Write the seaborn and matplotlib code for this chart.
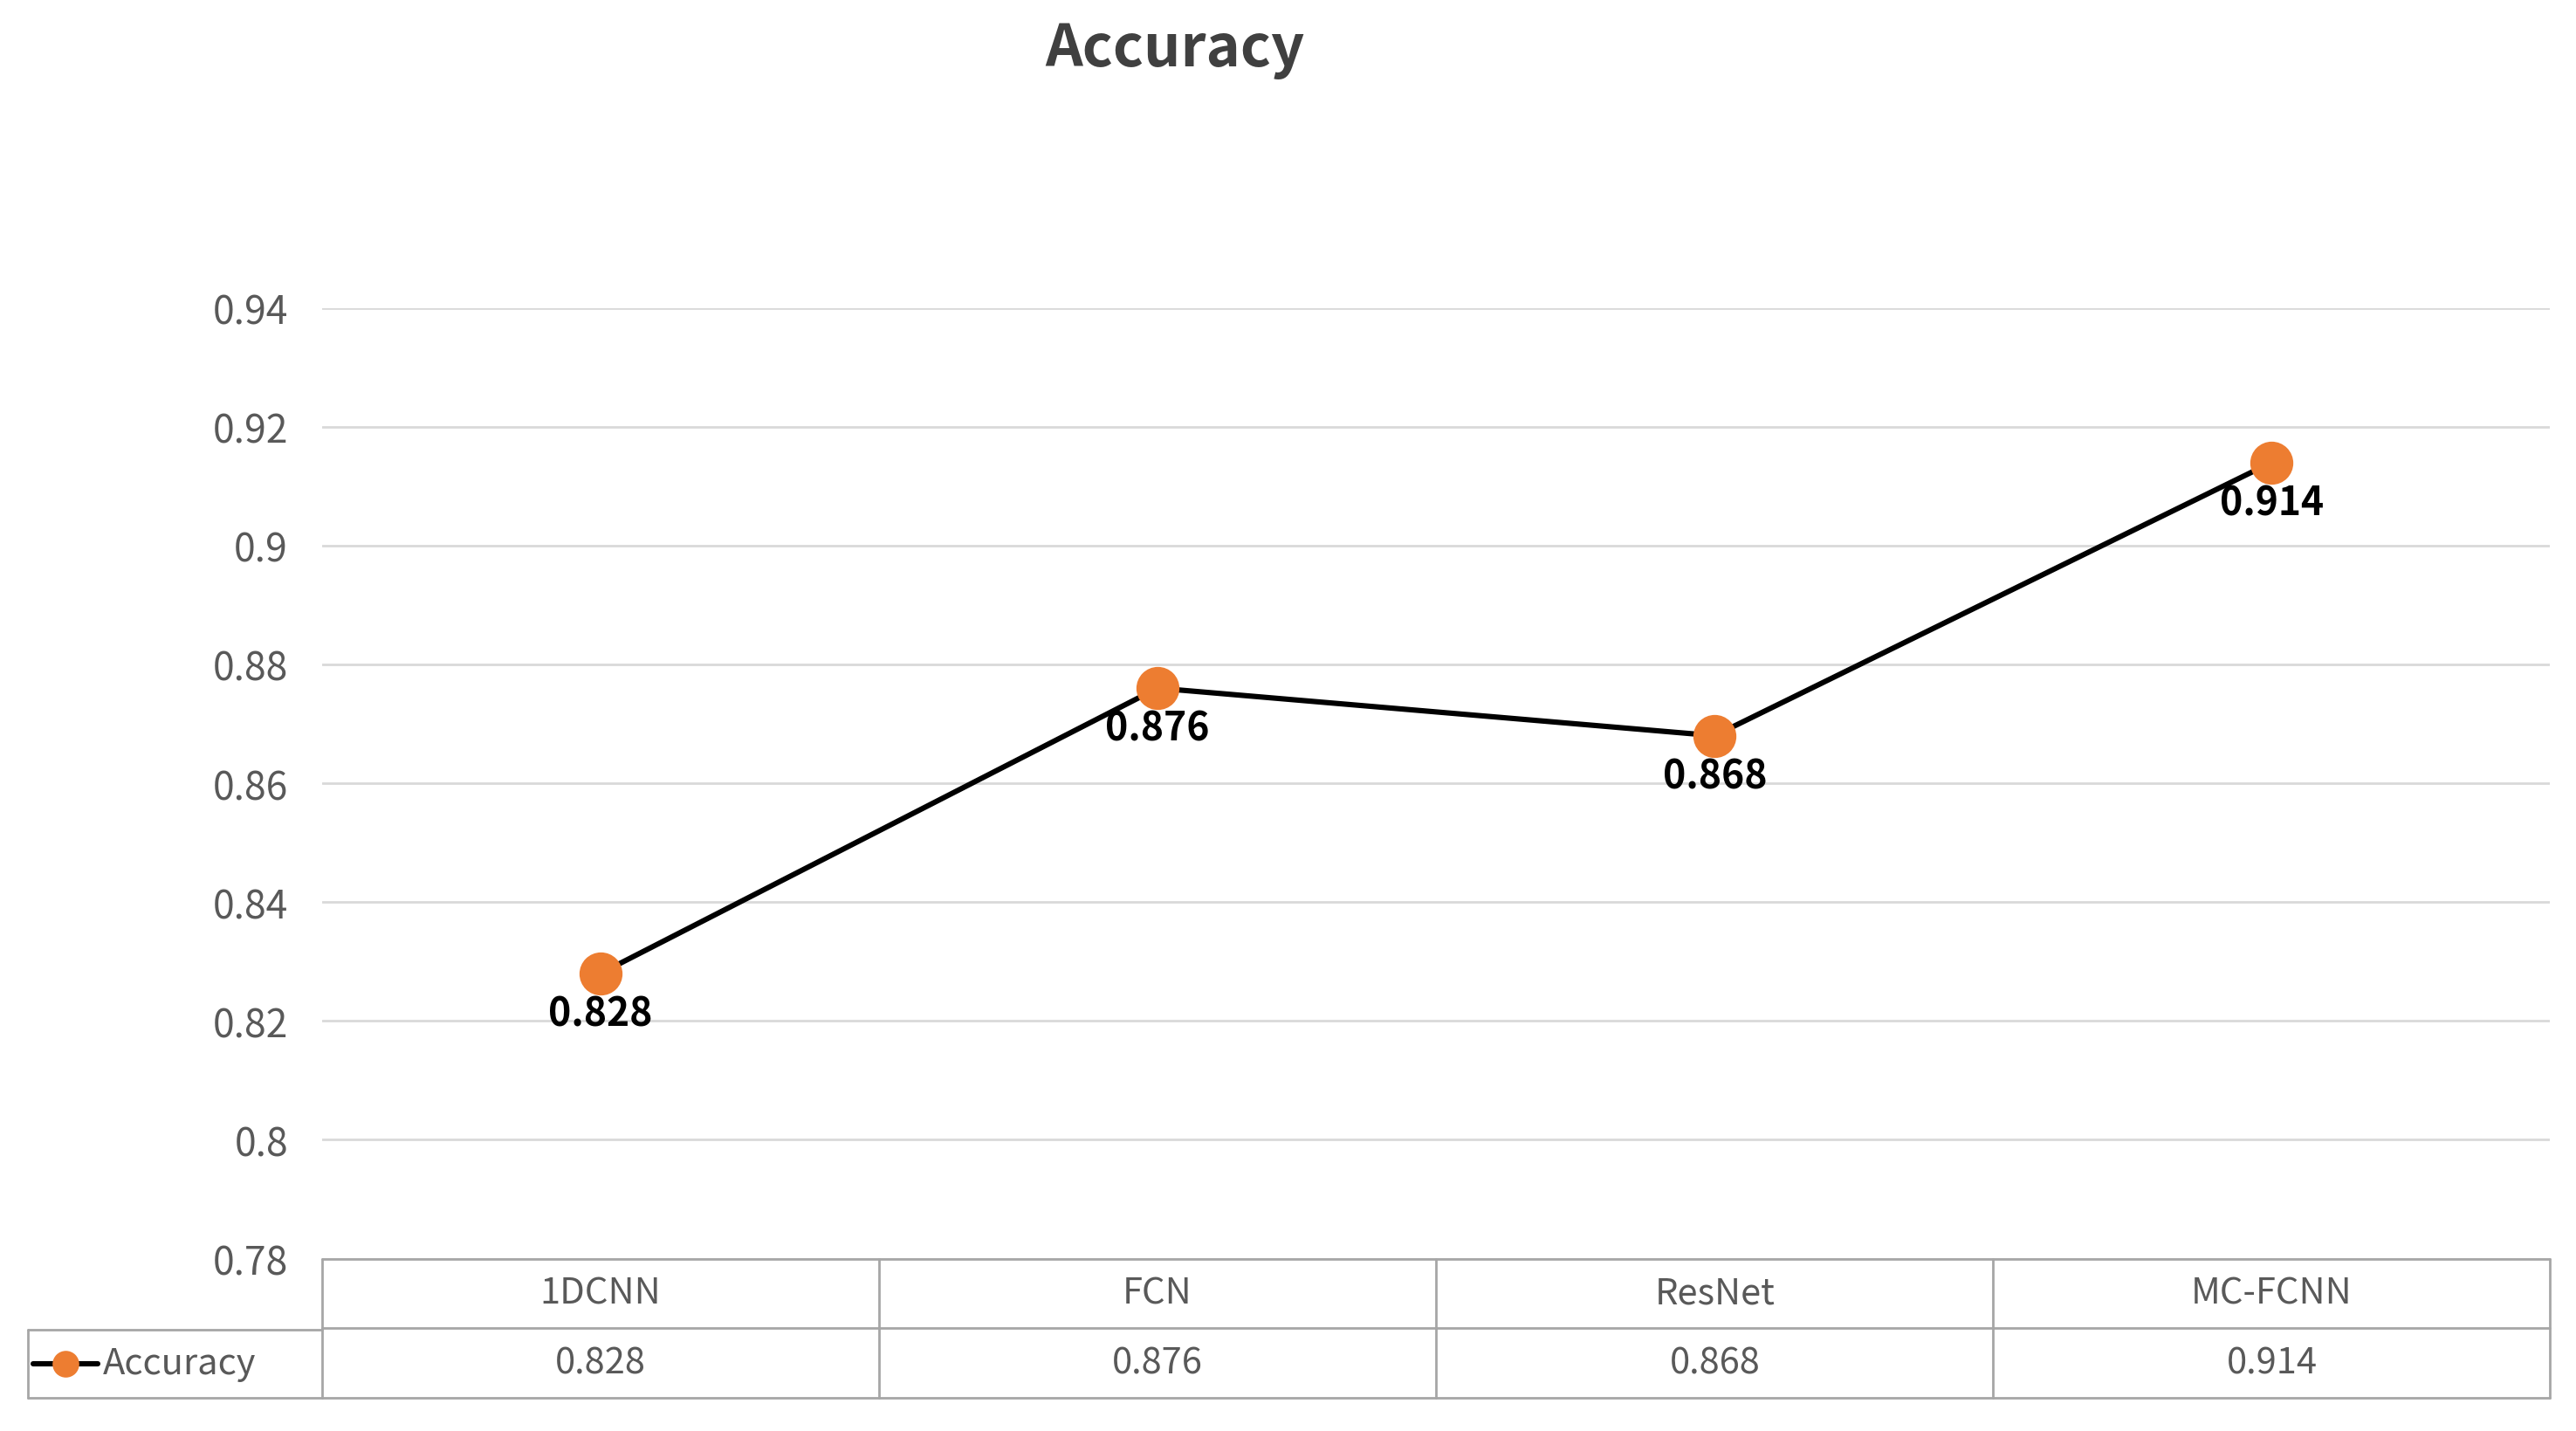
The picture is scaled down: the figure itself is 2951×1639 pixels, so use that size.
import matplotlib
matplotlib.use("Agg")
import matplotlib.pyplot as plt
import seaborn as sns
import pandas as pd

models = ["1DCNN", "FCN", "ResNet", "MC-FCNN"]
accuracy = [0.828, 0.876, 0.868, 0.914]
y_ticks = [0.78, 0.80, 0.82, 0.84, 0.86, 0.88, 0.90, 0.92, 0.94]
y_tick_labels = ["0.78", "0.8", "0.82", "0.84", "0.86", "0.88", "0.9", "0.92", "0.94"]

sns.set_style("white")
plt.rcParams["font.family"] = ["Noto Sans CJK SC", "DejaVu Sans"]

df = pd.DataFrame({"x": range(len(models)), "acc": accuracy})

fig = plt.figure(figsize=(14.755, 8.2), dpi=200)
ax = fig.add_axes([0.125, 0.1204, 0.865, 0.664])

sns.lineplot(data=df, x="x", y="acc", ax=ax, color="black", linewidth=2.2,
             marker="o", markersize=17, markerfacecolor="#ED7D31",
             markeredgecolor="#ED7D31", zorder=3)
for i, v in enumerate(accuracy):
    ax.text(i, v - 0.0035, f"{v:.3f}", ha="center", va="top", fontsize=16,
            fontweight="bold", color="black", zorder=4)

ax.set_xlim(-0.5, len(models) - 0.5)
ax.set_ylim(0.78, 0.94)
ax.set_yticks(y_ticks)
ax.set_yticklabels(y_tick_labels, fontsize=16, color="#595959")
ax.set_xticks([])
ax.set_xlabel("")
ax.set_ylabel("")
ax.tick_params(axis="y", length=0, pad=14)
ax.grid(axis="y", color="#D9D9D9", linewidth=1)
for s in ax.spines.values():
    s.set_visible(False)

fig.text(0.456, 0.965, "Accuracy", ha="center", va="center", fontsize=24,
         fontweight="bold", color="#404040")

# data table below the axes
tab = fig.add_axes([0.125, 0.023, 0.865, 0.0974], sharex=ax)
tab.set_ylim(0, 2)
tab.axis("off")
lc = "#A6A6A6"
tab.plot([-0.5, 3.5], [2, 2], color=lc, lw=1, clip_on=False)
tab.plot([-0.5, 3.5], [1, 1], color=lc, lw=1, clip_on=False)
tab.plot([-0.5, 3.5], [0, 0], color=lc, lw=1, clip_on=False)
for b in [-0.5, 0.5, 1.5, 2.5, 3.5]:
    tab.plot([b, b], [0, 2], color=lc, lw=1, clip_on=False)
for i, (m, v) in enumerate(zip(models, accuracy)):
    tab.text(i, 1.5, m, ha="center", va="center", fontsize=15, color="#595959")
    tab.text(i, 0.5, f"{v:.3f}", ha="center", va="center", fontsize=15, color="#595959")

# legend cell at the left of the table
x0 = 0.011
fig.add_artist(plt.Line2D([x0, 0.125], [0.071, 0.071], color=lc, lw=1))
fig.add_artist(plt.Line2D([x0, 0.125], [0.023, 0.023], color=lc, lw=1))
fig.add_artist(plt.Line2D([x0, x0], [0.023, 0.071], color=lc, lw=1))
fig.add_artist(plt.Line2D([0.013, 0.038], [0.047, 0.047], color="black", lw=2.2))
fig.add_artist(plt.Line2D([0.0255], [0.047], marker="o", markersize=10,
                          color="#ED7D31", lw=0))
fig.text(0.040, 0.047, "Accuracy", ha="left", va="center", fontsize=15, color="#595959")

fig.savefig("out.png", dpi=200)
